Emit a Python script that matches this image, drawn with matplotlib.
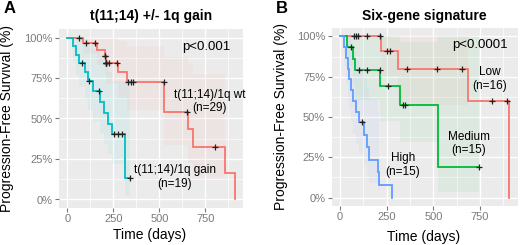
import numpy as np
import matplotlib
matplotlib.use("Agg")
import matplotlib.pyplot as plt
from matplotlib.ticker import MultipleLocator, FuncFormatter

plt.rcParams['font.family'] = ['Liberation Sans', 'DejaVu Sans']

# ---------------- data (days) ----------------
# Panel A: t(11;14) +/- 1q gain
a_wt_events = [83, 160, 205, 210, 277, 326, 527, 527, 655, 681, 857, 911]
a_wt_censor = [65, 102, 150, 207, 207, 212, 212, 212, 212, 228, 268, 332, 345, 359, 525, 652, 805]
a_gain_events = [33, 47, 62, 96, 112, 138, 180, 200, 222, 245, 314, 314]
a_gain_censor = [82, 120, 171, 255, 275, 298, 340]

# Panel B: six-gene signature
b_low_events = [218, 312, 684, 906]
b_low_censor = [77, 85, 98, 143, 214, 253, 268, 360, 521, 655, 812, 896]
b_med_events = [36, 68, 80, 216, 321, 526, 526]
b_med_censor = [59, 102, 143, 214, 255, 339, 348, 746]
b_high_events = [22, 30, 42, 50, 60, 72, 85, 100, 130, 145, 157, 205, 207, 280]
b_high_censor = [119]

title_a = "t(11;14) +/- 1q gain"
title_b = "Six-gene signature"
labels_a = ["t(11;14)/1q wt\n(n=29)", "t(11;14)/1q gain\n(n=19)"]
labels_b = ["Low\n(n=16)", "Medium\n(n=15)", "High\n(n=15)"]
pval_a = "p<0.001"
pval_b = "p<0.0001"

RED = "#F8766D"
CYAN = "#00BFC4"
GREEN = "#00BA38"
BLUE = "#619CFF"
W, H = 520, 245


def km(ev, ce):
    ev = np.asarray(ev, float)
    ce = np.asarray(ce, float)
    allt = np.concatenate([ev, ce])
    t, s, lo, hi = [0.0], [1.0], [1.0], [1.0]
    S, v = 1.0, 0.0
    for ti in np.unique(ev):
        n = np.sum(allt >= ti)
        d = np.sum(ev == ti)
        S *= (n - d) / n
        if n > d:
            v += d / (n * (n - d))
        t.append(ti)
        s.append(S)
        if S > 0:
            se = np.sqrt(v)
            lo.append(S * np.exp(-1.96 * se))
            hi.append(min(1.0, S * np.exp(1.96 * se)))
        else:
            lo.append(np.nan)
            hi.append(np.nan)
    tend = allt.max()
    t.append(tend)
    s.append(s[-1])
    lo.append(lo[-1])
    hi.append(hi[-1])
    return np.array(t), np.array(s), np.array(lo), np.array(hi)


def surv_at(t, s, x):
    idx = np.searchsorted(t[:-1], x, side='right') - 1
    return s[idx]


def pxbox(left, right, top, bottom):
    return [left / W, 1 - bottom / H, (right - left) / W, (bottom - top) / H]


def setup(ax, xmax):
    ax.set_facecolor("#EBEBEB")
    for sp in ax.spines.values():
        sp.set_visible(False)
    ax.set_xlim(-0.05 * xmax, 1.05 * xmax)
    ax.set_ylim(-0.05, 1.05)
    ax.xaxis.set_major_locator(MultipleLocator(250))
    ax.xaxis.set_minor_locator(MultipleLocator(125))
    ax.yaxis.set_major_locator(MultipleLocator(0.25))
    ax.yaxis.set_minor_locator(MultipleLocator(0.125))
    ax.yaxis.set_major_formatter(FuncFormatter(lambda v, p: f"{int(round(v*100))}%"))
    ax.grid(which='major', color='white', lw=1.0)
    ax.grid(which='minor', color='white', lw=0.5)
    ax.set_axisbelow(True)
    ax.tick_params(which='major', length=2.75, width=0.8, color='#7a7a7a',
                   labelcolor='#7a7a7a', labelsize=8, pad=1.8)
    ax.tick_params(which='minor', length=0)


def draw(ax, ev, ce, color):
    t, s, lo, hi = km(ev, ce)
    ax.fill_between(t, lo, hi, step='post', color=color, alpha=0.06, lw=0)
    ax.step(t, s, where='post', color=color, lw=1.3, solid_joinstyle='miter')
    cs = surv_at(t, s, np.asarray(ce, float))
    ax.plot(ce, cs, ls='none', marker='+', ms=5, mew=0.9, color='#222222')


fig = plt.figure(figsize=(W / 100, H / 100), dpi=100)

# Panel A
xmax_a = max(max(a_wt_events + a_wt_censor), max(a_gain_events + a_gain_censor))
axA = fig.add_axes(pxbox(58.9, 243.3, 29.4, 207.6))
setup(axA, xmax_a)
draw(axA, a_wt_events, a_wt_censor, RED)
draw(axA, a_gain_events, a_gain_censor, CYAN)
axA.text(758, 0.943, pval_a, ha='center', va='center', fontsize=9.5)
axA.text(772, 0.604, labels_a[0], ha='center', va='center', fontsize=8.5, linespacing=1.15)
axA.text(585, 0.139, labels_a[1], ha='center', va='center', fontsize=8.5, linespacing=1.15)

# Panel B
xmax_b = max(b_low_events + b_low_censor + b_med_events + b_med_censor + b_high_events + b_high_censor)
axB = fig.add_axes(pxbox(331.5, 517.7, 28.4, 205.6))
setup(axB, xmax_b)
draw(axB, b_low_events, b_low_censor, RED)
draw(axB, b_med_events, b_med_censor, GREEN)
draw(axB, b_high_events, b_high_censor, BLUE)
axB.text(749, 0.947, pval_b, ha='center', va='center', fontsize=9.5)
axB.text(803, 0.735, labels_b[0], ha='center', va='center', fontsize=8.5, linespacing=1.15)
axB.text(690, 0.337, labels_b[1], ha='center', va='center', fontsize=8.5, linespacing=1.15)
axB.text(337, 0.202, labels_b[2], ha='center', va='center', fontsize=8.5, linespacing=1.15)


def ftext(px, py, s, **kw):
    fig.text(px / W, 1 - py / H, s, **kw)


ftext(151.1, 16, title_a, ha='center', va='center', fontsize=10, fontweight='bold')
ftext(424.6, 16, title_b, ha='center', va='center', fontsize=10, fontweight='bold')
ftext(10, 8.5, "A", ha='center', va='center', fontsize=12, fontweight='bold')
ftext(281.5, 8.5, "B", ha='center', va='center', fontsize=12, fontweight='bold')
ftext(7.5, 118.5, "Progression-Free Survival (%)", ha='center', va='center', rotation=90, fontsize=10)
ftext(281.5, 117, "Progression-Free Survival (%)", ha='center', va='center', rotation=90, fontsize=10)
ftext(149.7, 235, "Time (days)", ha='center', va='center', fontsize=10)
ftext(423.3, 236.5, "Time (days)", ha='center', va='center', fontsize=10)

fig.savefig("out.png", dpi=100)
